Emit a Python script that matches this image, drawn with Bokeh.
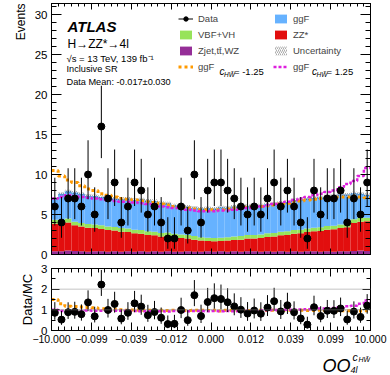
import numpy as np
from bokeh.plotting import figure
from bokeh.layouts import column
from bokeh.models import (Range1d, LinearAxis, FixedTicker, Label, Legend,
                          LegendItem, Span, Title)
from bokeh.embed import file_html
from bokeh.resources import INLINE

# ---------------- data ----------------
x_tick_pos = [0, 6, 12, 18, 24, 30, 36, 42, 48]
x_tick_labels = ["\u221210.000", "\u22120.099", "\u22120.039", "\u22120.012", "0.000",
                 "0.012", "0.039", "0.099", "10.000"]
y_ticks_main = [0, 5, 10, 15, 20, 25, 30]
y_ticks_ratio = [0, 1, 2, 3]

data = [6, 4, 7, 7, 6, 10, 5, 16, 7, 9, 4, 6, 9, 8, 5, 6, 4, 2, 2, 6, 3, 10, 4, 8,
        9, 9, 8, 7, 6, 5, 6, 5, 7, 9, 6, 8, 6, 4, 2, 8, 5, 7, 7, 8, 4, 7, 5, 9]

zjet = [0.4, 0.4, 0.5, 0.45, 0.4, 0.35, 0.4, 0.4, 0.35, 0.4, 0.35, 0.4, 0.35, 0.4, 0.35, 0.4,
        0.35, 0.4, 0.35, 0.35, 0.4, 0.35, 0.35, 0.4, 0.35, 0.4, 0.35, 0.4, 0.35, 0.4, 0.4, 0.35,
        0.4, 0.35, 0.4, 0.35, 0.4, 0.35, 0.4, 0.4, 0.35, 0.4, 0.35, 0.4, 0.4, 0.45, 0.5, 0.45]
zz = [3.45, 3.45, 3.5, 3.2, 3.1, 3.0, 2.9, 2.8, 2.7, 2.6, 2.5, 2.4, 2.3, 2.2, 2.1, 2.0,
      1.9, 1.9, 1.8, 1.7, 1.6, 1.5, 1.4, 1.3, 1.3, 1.3, 1.4, 1.4, 1.5, 1.6, 1.6, 1.7,
      1.8, 1.9, 2.0, 2.1, 2.2, 2.3, 2.4, 2.5, 2.6, 2.7, 2.8, 2.9, 3.0, 3.5, 3.6, 3.7]
vbf = [0.5, 0.5, 0.5, 0.45, 0.45, 0.45, 0.45, 0.45, 0.45, 0.45, 0.45, 0.45, 0.45, 0.45, 0.45, 0.45,
       0.45, 0.45, 0.45, 0.45, 0.45, 0.45, 0.4, 0.4, 0.4, 0.4, 0.4, 0.45, 0.45, 0.45, 0.45, 0.45,
       0.45, 0.45, 0.45, 0.45, 0.45, 0.45, 0.45, 0.45, 0.45, 0.45, 0.45, 0.45, 0.45, 0.45, 0.45, 0.45]
ggf = [2.65, 3.25, 3.4, 3.65, 3.65, 3.55, 3.55, 3.55, 3.55, 3.55, 3.65, 3.75, 3.75, 3.85, 3.85, 3.85,
       3.75, 3.65, 3.55, 3.55, 3.55, 3.55, 3.6, 3.7, 3.7, 3.8, 3.7, 3.75, 3.65, 3.65, 3.75, 3.65,
       3.65, 3.65, 3.65, 3.65, 3.75, 3.75, 3.75, 3.75, 3.75, 3.75, 3.75, 3.75, 3.65, 3.25, 3.05, 2.85]
# total prediction with ggF at c_HWtilde = -1.25 and +1.25
pred_cm = [10.5, 9.8, 9.3, 9.0, 8.6, 8.2, 8.0, 7.6, 7.4, 7.2, 7.0, 6.9, 6.8, 6.7, 6.6, 6.5,
           6.3, 6.2, 6.0, 5.9, 5.8, 5.7, 5.6, 5.6, 5.6, 5.6, 5.7, 5.8, 5.8, 5.9, 6.0, 6.0,
           6.1, 6.2, 6.3, 6.4, 6.6, 6.7, 6.8, 6.9, 7.0, 7.0, 7.1, 7.2, 7.2, 7.3, 7.2, 7.1]
pred_cp = [7.0, 7.2, 7.4, 7.3, 7.2, 7.1, 7.0, 6.9, 6.8, 6.7, 6.6, 6.6, 6.5, 6.4, 6.3, 6.2,
           6.0, 5.9, 5.8, 5.7, 5.6, 5.5, 5.4, 5.4, 5.4, 5.5, 5.5, 5.6, 5.7, 5.8, 5.9, 6.0,
           6.2, 6.3, 6.4, 6.6, 6.8, 7.0, 7.2, 7.4, 7.6, 7.8, 8.0, 8.4, 8.8, 9.2, 9.8, 10.8]
unc = [0.2] * 48

# ---------------- derived ----------------
nb = len(data)
edges = np.arange(nb + 1, dtype=float)
lo, hi = edges[:-1], edges[1:]
mid = lo + 0.5
d = np.array(data, float)
s0 = np.array(zjet)
s1 = s0 + np.array(zz)
s2 = s1 + np.array(vbf)
tot = s2 + np.array(ggf)
u = np.array(unc)
e_up = d + np.sqrt(d + 0.75) + 1.0
e_dn = d * (1 - 1 / (9 * d) - 1 / (3 * np.sqrt(d))) ** 3
cm = np.array(pred_cm)
cp = np.array(pred_cp)

FONT = "Liberation Sans"
C_ZJ, C_ZZ, C_VBF, C_GGF = "#952E97", "#E20E0E", "#97E35A", "#66B2FF"
C_OR, C_MG = "#FF9A00", "#DE1FDE"

W = 390
FL = 51  # frame left (page px)


def step_y(v):
    return np.append(v, v[-1])


def make_axis(ticks, minor, tin, minin, labels=None, size="11px", standoff=4):
    ax = LinearAxis(ticker=FixedTicker(ticks=ticks, minor_ticks=minor))
    ax.major_tick_in = tin
    ax.major_tick_out = 0
    ax.minor_tick_in = minin
    ax.minor_tick_out = 0
    ax.axis_line_color = "black"
    ax.major_tick_line_color = "black"
    ax.minor_tick_line_color = "black"
    if labels is None:
        ax.major_label_overrides = {t: "" for t in ticks}
        ax.major_label_text_font_size = "0px"
        ax.major_label_standoff = 0
    else:
        if labels != "auto":
            ax.major_label_overrides = labels
        ax.major_label_text_font = FONT
        ax.major_label_text_font_size = size
        ax.major_label_text_color = "black"
        ax.major_label_standoff = standoff
    return ax


def add_text(fig, text, px, py, fb, size, style="normal", align="left",
             baseline="alphabetic"):
    fig.add_layout(Label(x=px - FL, y=fb - py, x_units="screen", y_units="screen",
                         text=text, text_font=FONT, text_font_size=f"{size}px",
                         text_font_style=style, text_align=align,
                         text_baseline=baseline, text_color="black"))


# ---------------- main panel ----------------
FB1 = 254
p = figure(width=W, height=261, x_range=Range1d(0, nb), y_range=Range1d(0, 31.375),
           x_axis_type=None, y_axis_type=None, toolbar_location=None,
           output_backend="svg", min_border_left=51, min_border_right=20,
           min_border_top=3, min_border_bottom=7)
p.outline_line_color = "black"
p.outline_line_width = 1
p.background_fill_color = "white"
p.border_fill_color = "white"

minor_main = [float(v) for v in range(0, 32)]
minor_x = [float(v) for v in range(0, nb + 1)]
p.add_layout(make_axis(y_ticks_main, minor_main, 10, 5, labels="auto", size="11.5px", standoff=4), "left")
p.add_layout(Title(text="Events", align="right", text_font=FONT, text_font_size="12px",
                   text_font_style="normal", text_color="black", standoff=8), "left")
p.add_layout(make_axis(y_ticks_main, minor_main, 10, 5), "right")
p.add_layout(make_axis(x_tick_pos, minor_x, 6, 3), "below")
p.add_layout(make_axis(x_tick_pos, minor_x, 6, 3), "above")

r_zj = p.quad(left=lo, right=hi, bottom=0, top=s0, fill_color=C_ZJ, line_color=None)
r_zz = p.quad(left=lo, right=hi, bottom=s0, top=s1, fill_color=C_ZZ, line_color=None)
r_vbf = p.quad(left=lo, right=hi, bottom=s1, top=s2, fill_color=C_VBF, line_color=None)
r_ggf = p.quad(left=lo, right=hi, bottom=s2, top=tot, fill_color=C_GGF, line_color=None)
r_unc = p.quad(left=lo, right=hi, bottom=tot - u, top=tot + u, fill_alpha=0,
               line_color=None, hatch_pattern="right_diagonal_line",
               hatch_color="black", hatch_alpha=0.55, hatch_scale=4, hatch_weight=0.6)
r_cm = p.step(x=edges, y=step_y(cm), mode="after", line_color=C_OR, line_width=3,
              line_dash="3 3")
r_cp = p.step(x=edges, y=step_y(cp), mode="after", line_color=C_MG, line_width=2.5,
              line_dash="3 2")
r_seg = p.segment(x0=mid, y0=e_dn, x1=mid, y1=e_up, line_color="black", line_width=1)
r_pt = p.scatter(x=mid, y=d, size=7, color="black")


def make_legend(items, x):
    lg = Legend(items=items, location=(x, 182), orientation="vertical",
                glyph_width=15, glyph_height=11, label_height=11, spacing=5,
                padding=0, margin=0, label_standoff=5,
                label_text_font=FONT, label_text_font_size="9.5px",
                border_line_color=None, background_fill_alpha=0)
    p.add_layout(lg)


make_legend([LegendItem(label="Data", renderers=[r_seg, r_pt]),
             LegendItem(label="VBF+VH", renderers=[r_vbf]),
             LegendItem(label="Zjet,tt\u0304,WZ", renderers=[r_zj]),
             LegendItem(label="ggF", renderers=[r_cm])], 127)
make_legend([LegendItem(label="ggF", renderers=[r_ggf]),
             LegendItem(label="ZZ*", renderers=[r_zz]),
             LegendItem(label="Uncertainty", renderers=[r_unc]),
             LegendItem(label="ggF", renderers=[r_cp])], 222)

# legend math pieces
for cx, val in ((219, "= -1.25"), (311.5, "= 1.25")):
    add_text(p, "c", cx, 71, FB1, 10, style="italic")
    add_text(p, "HW\u0303", cx + 4.5, 74, FB1, 6.5, style="italic")
    add_text(p, val, cx + 14.5, 71, FB1, 9.5)

add_text(p, "ATLAS", 67, 25.5, FB1, 15, style="bold italic")
add_text(p, "H\u2192ZZ*\u21924l", 67, 43, FB1, 12)
add_text(p, "\u221as = 13 TeV, 139 fb\u207b\u00b9", 66, 57.5, FB1, 9.5)
add_text(p, "Inclusive SR", 66, 68.5, FB1, 9.2)
add_text(p, "Data Mean: -0.017\u00b10.030", 66, 81.5, FB1, 9.2)

# ---------------- ratio panel ----------------
FB2 = 330
p2 = figure(width=W, height=85, x_range=p.x_range, y_range=Range1d(0, 3),
            x_axis_type=None, y_axis_type=None, toolbar_location=None,
            output_backend="svg", min_border_left=51, min_border_right=20,
            min_border_top=7, min_border_bottom=16)
p2.outline_line_color = "black"
p2.background_fill_color = "white"
p2.border_fill_color = "white"

minor_r = [0.5, 1.5, 2.5]
p2.add_layout(make_axis(y_ticks_ratio, minor_r, 8, 4, labels="auto", size="11.5px", standoff=4), "left")
p2.add_layout(Title(text="Data/MC", align="center", text_font=FONT, text_font_size="13px",
                    text_font_style="normal", text_color="black", standoff=8), "left")
p2.add_layout(make_axis(y_ticks_ratio, minor_r, 8, 4), "right")
xl = {t: lab for t, lab in zip(x_tick_pos, x_tick_labels)}
p2.add_layout(make_axis(x_tick_pos, minor_x, 8, 4, labels=xl, size="10.5px", standoff=4), "below")
p2.add_layout(make_axis(x_tick_pos, minor_x, 8, 4), "above")

for lvl in (1, 2):
    p2.add_layout(Span(location=lvl, dimension="width", line_color="#888888",
                       line_dash="1 1", line_width=1))

p2.quad(left=lo, right=hi, bottom=(tot - u) / tot, top=(tot + u) / tot, fill_alpha=0,
        line_color=None, hatch_pattern="right_diagonal_line", hatch_color="black",
        hatch_alpha=0.55, hatch_scale=4, hatch_weight=0.6)
p2.step(x=edges, y=step_y(cm / tot), mode="after", line_color=C_OR, line_width=3,
        line_dash="3 3")
p2.step(x=edges, y=step_y(cp / tot), mode="after", line_color=C_MG, line_width=2.5,
        line_dash="3 2")
p2.segment(x0=mid, y0=e_dn / tot, x1=mid, y1=e_up / tot, line_color="black", line_width=1)
p2.scatter(x=mid, y=d / tot, size=7, color="black")

# ---------------- x-axis title strip (frame aligned with panels above) ----------------
p3 = figure(width=W, height=29, x_range=Range1d(0, W), y_range=Range1d(0, 29),
            x_axis_type=None, y_axis_type=None, toolbar_location=None,
            output_backend="svg", min_border_left=51, min_border_right=20,
            min_border_top=0, min_border_bottom=0)
p3.outline_line_color = None
p3.background_fill_color = "white"
p3.border_fill_color = "white"
FB3 = 375
add_text(p3, "OO", 350, 365, FB3, 18, style="italic", align="right")
add_text(p3, "c", 352, 356, FB3, 10.5, style="italic")
add_text(p3, "HW\u0303", 358, 359, FB3, 7, style="italic")
add_text(p3, "4l", 350, 369.5, FB3, 9, style="italic")

layout = column(p, p2, p3, spacing=0)
open("out.html", "w").write(file_html(layout, INLINE, title="plot"))
